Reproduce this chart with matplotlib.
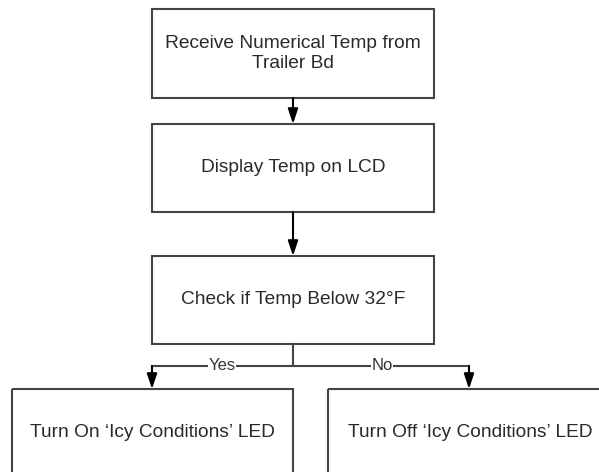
import matplotlib.pyplot as plt
from matplotlib.patches import Rectangle

plt.rcParams['font.family'] = ['Liberation Sans', 'DejaVu Sans']

# flowchart text
steps = ["Receive Numerical Temp from\nTrailer Bd",
         "Display Temp on LCD",
         "Check if Temp Below 32°F"]
outcomes = ["Turn On \u2018Icy Conditions\u2019 LED",
            "Turn Off \u2018Icy Conditions\u2019 LED"]
branch_labels = ["Yes", "No"]

# layout (pixels, y going down)
W, H = 599, 472
col = "#444444"
txt_col = "#2a2a2a"
step_x0, step_x1 = 152, 434
step_rows = [(9, 98), (124, 212), (256, 344)]
out_boxes = [(12, 293), (328, 612)]
out_top, out_bot = 389, 478
branch_y = 366
branch_x = [152, 469]
label_x = [222, 382]

fig = plt.figure(figsize=(W / 100, H / 100), dpi=100)
ax = fig.add_axes([0, 0, 1, 1])
ax.set_xlim(0, W)
ax.set_ylim(H, 0)
ax.axis("off")

cx = (step_x0 + step_x1) / 2

for (y0, y1), txt in zip(step_rows, steps):
    ax.add_patch(Rectangle((step_x0, y0), step_x1 - step_x0, y1 - y0,
                           fill=False, ec=col, lw=1.5))
    ax.text(cx, (y0 + y1) / 2, txt, ha="center", va="center",
            fontsize=13.8, color=txt_col, linespacing=1.3)

def arrow(x, y0, y1):
    ax.annotate("", xy=(x, y1), xytext=(x, y0),
                arrowprops=dict(arrowstyle="-|>,head_length=0.9,head_width=0.3",
                                color="black", lw=1.5, shrinkA=0, shrinkB=0))

for i in range(len(step_rows) - 1):
    arrow(cx, step_rows[i][1], step_rows[i + 1][0])

# branch
ax.plot([cx, cx], [step_rows[-1][1], branch_y], color=col, lw=1.5)
ax.plot(branch_x, [branch_y, branch_y], color=col, lw=1.5)
for bx in branch_x:
    arrow(bx, branch_y, out_top)
for lx, lab in zip(label_x, branch_labels):
    ax.text(lx, branch_y, lab, ha="center", va="center", fontsize=12,
            color="#333333", bbox=dict(fc="white", ec="none", pad=0.3))

for (x0, x1), txt in zip(out_boxes, outcomes):
    ax.add_patch(Rectangle((x0, out_top), x1 - x0, out_bot - out_top,
                           fill=False, ec=col, lw=1.5, clip_on=True))
    ax.text((x0 + x1) / 2, (out_top + out_bot) / 2 - 1, txt, ha="center",
            va="center", fontsize=13.8, color=txt_col)

fig.savefig("out.png", dpi=100)
